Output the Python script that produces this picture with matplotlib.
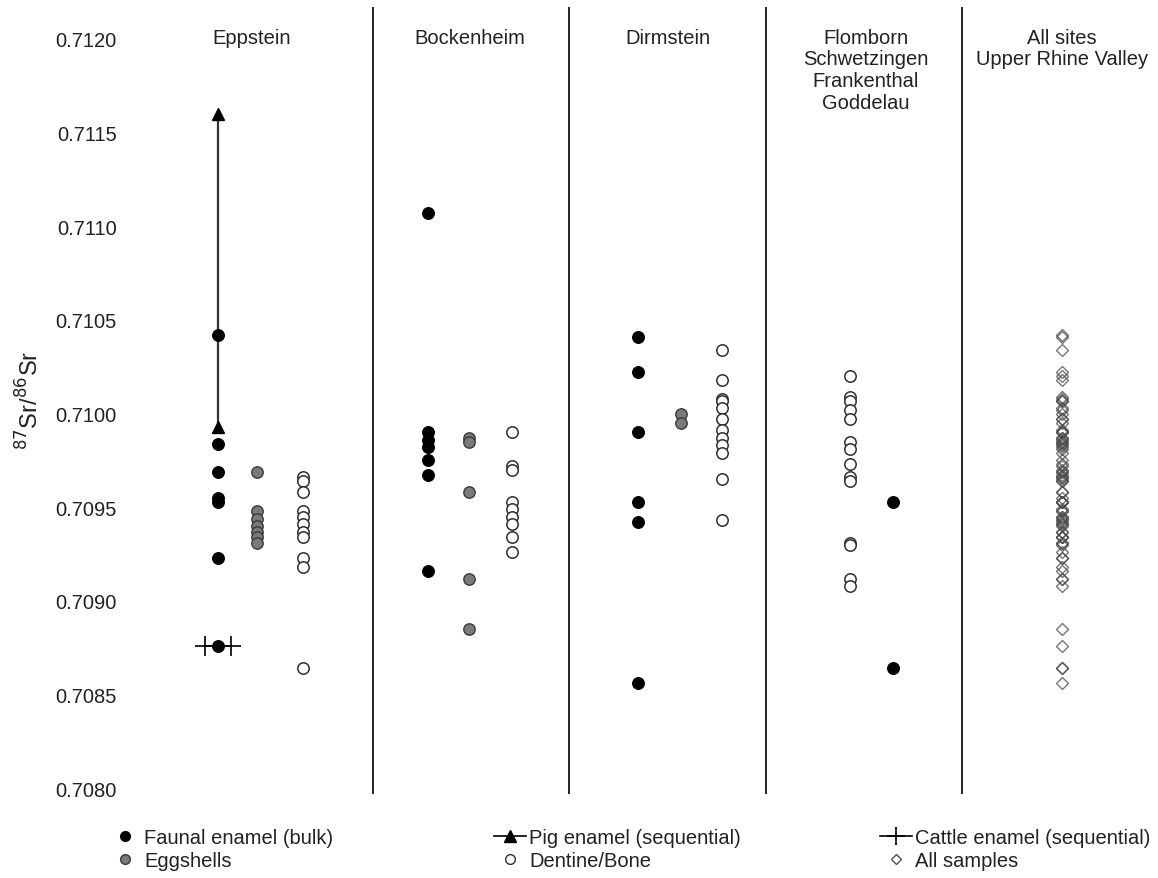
import numpy as np
import matplotlib
matplotlib.use("Agg")
from matplotlib import pyplot as plt
from matplotlib.lines import Line2D

plt.rcParams['font.family'] = ['Liberation Sans', 'DejaVu Sans']

# 87Sr/86Sr values, one list per site and sample type
sites = ["Eppstein", "Bockenheim", "Dirmstein",
         "Flomborn\nSchwetzingen\nFrankenthal\nGoddelau",
         "All sites\nUpper Rhine Valley"]

eppstein_faunal = [0.71042, 0.70984, 0.70969, 0.70955, 0.70953, 0.70923, 0.70876]
eppstein_eggshell = [0.70969, 0.70948, 0.70944, 0.70940, 0.70937, 0.70934, 0.70931]
eppstein_dentine = [0.70966, 0.70964, 0.70958, 0.70948, 0.70945, 0.70941,
                    0.70937, 0.70934, 0.70923, 0.70918, 0.70864]
eppstein_pig = [0.71160, 0.70993]
eppstein_cattle = [0.70876, 0.70876]

bockenheim_faunal = [0.71107, 0.70990, 0.70986, 0.70982, 0.70975, 0.70967, 0.70916]
bockenheim_eggshell = [0.70987, 0.70985, 0.70958, 0.70912, 0.70885]
bockenheim_dentine = [0.70990, 0.70972, 0.70970, 0.70953, 0.70949, 0.70945,
                      0.70941, 0.70934, 0.70926]

dirmstein_faunal = [0.71041, 0.71022, 0.70990, 0.70953, 0.70942, 0.70856]
dirmstein_eggshell = [0.71000, 0.70995]
dirmstein_dentine = [0.71034, 0.71018, 0.71008, 0.71007, 0.71003, 0.70997,
                     0.70991, 0.70987, 0.70983, 0.70979, 0.70965, 0.70943]

flomborn_dentine = [0.71020, 0.71009, 0.71007, 0.71002, 0.70997, 0.70985,
                    0.70981, 0.70973, 0.70966, 0.70964, 0.70931, 0.70930,
                    0.70912, 0.70908]
flomborn_faunal = [0.70953, 0.70864]

# pooled column: every bulk/eggshell/dentine sample, the two highs above 0.7105 are not shown there
pooled = np.concatenate([eppstein_faunal, eppstein_eggshell, eppstein_dentine,
                         bockenheim_faunal, bockenheim_eggshell, bockenheim_dentine,
                         dirmstein_faunal, dirmstein_eggshell, dirmstein_dentine,
                         flomborn_dentine, flomborn_faunal])
all_samples = pooled[pooled < 0.7105]

y_ticks = [0.7080, 0.7085, 0.7090, 0.7095, 0.7100, 0.7105, 0.7110, 0.7115, 0.7120]

# styles
faunal_style = dict(marker='o', ms=8.5, mfc='black', mec='black', mew=0.8, ls='none', zorder=4)
egg_style = dict(marker='o', ms=8.2, mfc='#7a7a7a', mec='#3a3a3a', mew=1.0, ls='none', zorder=3)
dentine_style = dict(marker='o', ms=8.2, mfc='white', mec='#2e2e2e', mew=1.1, ls='none', zorder=3)
all_style = dict(marker='D', ms=6.6, mfc='none', mec='#4a4a4a', mew=1.0, alpha=0.75, ls='none', zorder=3)
text_color = '#222222'

fig = plt.figure(figsize=(11.58, 8.79), dpi=100)
ax = fig.add_axes([125 / 1158, 1 - 795 / 879, 1 - 125 / 1158, (795 - 8) / 879])

# column positions inside each panel (panel width = 1)
col_faunal = [0.21, 1.28, 2.35]
col_egg = [0.41, 1.49, 2.57]
col_dent = [0.64, 1.71, 2.78]

ax.plot([col_faunal[0]] * 2, eppstein_pig, color='#333333', lw=1.6, marker='^', ms=9,
        mfc='black', mec='black', zorder=2)
ax.plot([col_faunal[0] - 0.065, col_faunal[0] + 0.065], eppstein_cattle, color='black', lw=1.2,
        marker='+', ms=14, mew=1.2, zorder=5)

for x, vals in zip(col_faunal, [eppstein_faunal, bockenheim_faunal, dirmstein_faunal]):
    ax.plot([x] * len(vals), vals, **faunal_style)
for x, vals in zip(col_egg, [eppstein_eggshell, bockenheim_eggshell, dirmstein_eggshell]):
    ax.plot([x] * len(vals), vals, **egg_style)
for x, vals in zip(col_dent, [eppstein_dentine, bockenheim_dentine, dirmstein_dentine]):
    ax.plot([x] * len(vals), vals, **dentine_style)

ax.plot([3.43] * len(flomborn_dentine), flomborn_dentine, **dentine_style)
ax.plot([3.65] * len(flomborn_faunal), flomborn_faunal, **faunal_style)
ax.plot([4.51] * len(all_samples), all_samples, **all_style)

for sep in [1, 2, 3, 4]:
    ax.axvline(sep, color='black', lw=1.2, zorder=1)

for x, name in zip([0.38, 1.49, 2.50, 3.51, 4.51], sites):
    ax.text(x, 0.71206, name, ha='center', va='top', fontsize=14.5, color=text_color,
            linespacing=1.18)

ax.set_xlim(-0.265, 5.0)
ax.set_ylim(0.70797, 0.71217)
ax.set_yticks(y_ticks)
ax.set_yticklabels([f"{t:.4f}" for t in y_ticks], fontsize=14.5, color=text_color)
ax.tick_params(axis='y', length=0, pad=6)
ax.set_xticks([])
for s in ax.spines.values():
    s.set_visible(False)

fig.text(30 / 1158, 1 - 400 / 879, r'$^{87}$Sr/$^{86}$Sr', rotation=90, ha='center', va='center',
         fontsize=17, color=text_color)

# legend, three separate columns
leg_kw = dict(frameon=False, loc='upper left', fontsize=14.5, handlelength=1.6,
              handletextpad=0.15, labelspacing=0.2, borderpad=0, borderaxespad=0)
h_faunal = Line2D([], [], marker='o', ms=7, mfc='black', mec='black', ls='none')
h_egg = Line2D([], [], marker='o', ms=7, mfc='#7a7a7a', mec='#3a3a3a', ls='none')
h_pig = Line2D([], [], color='black', lw=1.2, marker='^', ms=8, mfc='black', mec='black')
h_dent = Line2D([], [], marker='o', ms=7, mfc='white', mec='#2e2e2e', ls='none')
h_cattle = Line2D([], [], color='black', lw=1.2, marker='+', ms=13, mew=1.2)
h_all = Line2D([], [], marker='D', ms=5.5, mfc='none', mec='#505050', ls='none')

for handles, labels, x0 in [([h_faunal, h_egg], ["Faunal enamel (bulk)", "Eggshells"], 109),
                            ([h_pig, h_dent], ["Pig enamel (sequential)", "Dentine/Bone"], 494),
                            ([h_cattle, h_all], ["Cattle enamel (sequential)", "All samples"], 880)]:
    leg = fig.legend(handles, labels, bbox_to_anchor=(x0 / 1158, 1 - 829 / 879), **leg_kw)
    for t in leg.get_texts():
        t.set_color(text_color)

fig.savefig("out.png", dpi=100)
